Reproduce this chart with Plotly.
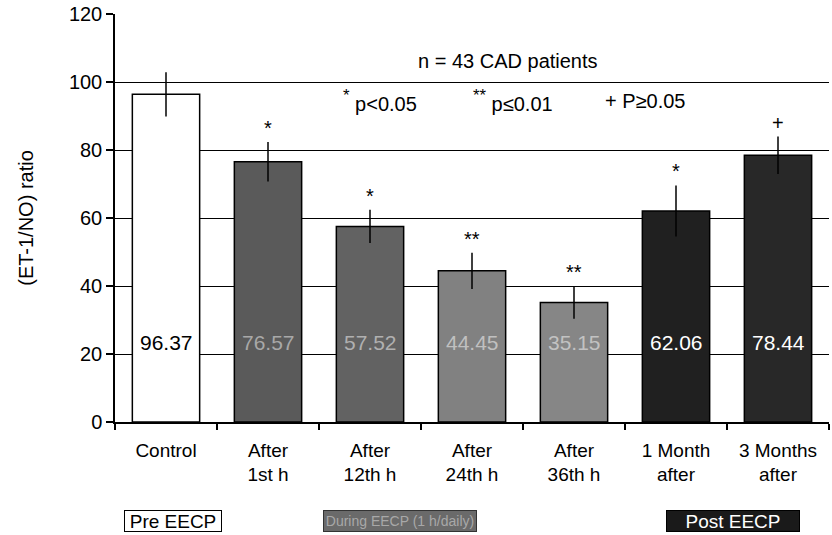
import plotly.graph_objects as go

categories = ["Control", "After<br>1st h", "After<br>12th h", "After<br>24th h",
              "After<br>36th h", "1 Month<br>after", "3 Months<br>after"]
values = [96.37, 76.57, 57.52, 44.45, 35.15, 62.06, 78.44]
errors = [6.5, 5.8, 4.9, 5.3, 4.8, 7.5, 5.5]
marks = ["", "*", "*", "**", "**", "*", "+"]
bar_colors = ["#ffffff", "#5a5a5a", "#626262", "#818181", "#868686", "#202020", "#282828"]
label_colors = ["#000000", "#a8a8a8", "#b0b0b0", "#c0c0c0", "#c2c2c2", "#ffffff", "#ffffff"]
y_ticks = [0, 20, 40, 60, 80, 100, 120]

FONT = "Liberation Sans, Arial, sans-serif"

fig = go.Figure()
fig.add_trace(go.Bar(
    x=categories, y=values, width=0.66,
    marker=dict(color=bar_colors, line=dict(color="black", width=1.5)),
    error_y=dict(type="data", array=errors, visible=True, thickness=1.5, width=0, color="black"),
    showlegend=False,
))

ann = []
for c, v, lc in zip(categories, values, label_colors):
    ann.append(dict(x=c, y=23.5, text=f"{v:.2f}", showarrow=False,
                    font=dict(size=21, color=lc, family=FONT)))
for c, v, e, m in zip(categories, values, errors, marks):
    if m:
        ann.append(dict(x=c, y=v + e + 0.3, text=m, showarrow=False, yanchor="bottom",
                        font=dict(size=20, color="black", family=FONT)))

def pann(px, y, text, size=20, **kw):
    d = dict(xref="paper", x=(px - 115) / 714, xanchor="center", y=y, text=text,
             showarrow=False, font=dict(size=size, color="black", family=FONT))
    d.update(kw)
    return d

ann.append(pann(508, 106.2, "n = 43 CAD patients"))
ann.append(pann(380, 94.5, "<span style='font-size:24px'><sup>*</sup></span> p<0.05"))
ann.append(pann(513, 94.5, "<span style='font-size:24px'><sup>**</sup></span> p≤0.01"))
ann.append(pann(645, 94.5, "+ P≥0.05"))

# group boxes
box_y = (422 - 521) / 410
ann.append(dict(xref="paper", yref="paper", x=(173 - 115) / 714, xanchor="center", y=box_y,
                yanchor="middle", text="Pre EECP", showarrow=False, width=96, height=20,
                bgcolor="white", bordercolor="black", borderwidth=1, borderpad=0,
                font=dict(size=19, color="black", family=FONT)))
ann.append(dict(xref="paper", yref="paper", x=(400 - 115) / 714, xanchor="center", y=box_y,
                yanchor="middle", text="During EECP (1 h/daily)", showarrow=False, width=152, height=20,
                bgcolor="#6a6a6a", bordercolor="#333", borderwidth=1, borderpad=0,
                font=dict(size=14, color="#a8a8a8", family=FONT)))
ann.append(dict(xref="paper", yref="paper", x=(733 - 115) / 714, xanchor="center", y=box_y,
                yanchor="middle", text="Post EECP", showarrow=False, width=132, height=20,
                bgcolor="#1a1a1a", bordercolor="black", borderwidth=1, borderpad=0,
                font=dict(size=19, color="white", family=FONT)))

fig.update_layout(
    width=832, height=535,
    margin=dict(l=115, r=3, t=12, b=113),
    plot_bgcolor="white", paper_bgcolor="white",
    font=dict(family=FONT, size=19, color="black"),
    bargap=0.34,
    annotations=ann,
    xaxis=dict(showline=True, linecolor="black", linewidth=1.5, ticks="outside",
               tickson="boundaries", ticklen=6, tickcolor="black", tickwidth=1.5,
               ticklabelstandoff=10,
               showgrid=False, tickfont=dict(size=19, family=FONT)),
    yaxis=dict(range=[0, 120], tickvals=y_ticks, showline=True, linecolor="black", linewidth=1.5,
               ticks="outside", ticklen=7, tickcolor="black", tickwidth=1.5,
               showgrid=True, gridcolor="black", gridwidth=1.2, zeroline=False,
               tickfont=dict(size=20, family=FONT),
               title=dict(text="(ET-1/NO) ratio", font=dict(size=20, family=FONT), standoff=30)),
)

fig.write_html("out.html")
